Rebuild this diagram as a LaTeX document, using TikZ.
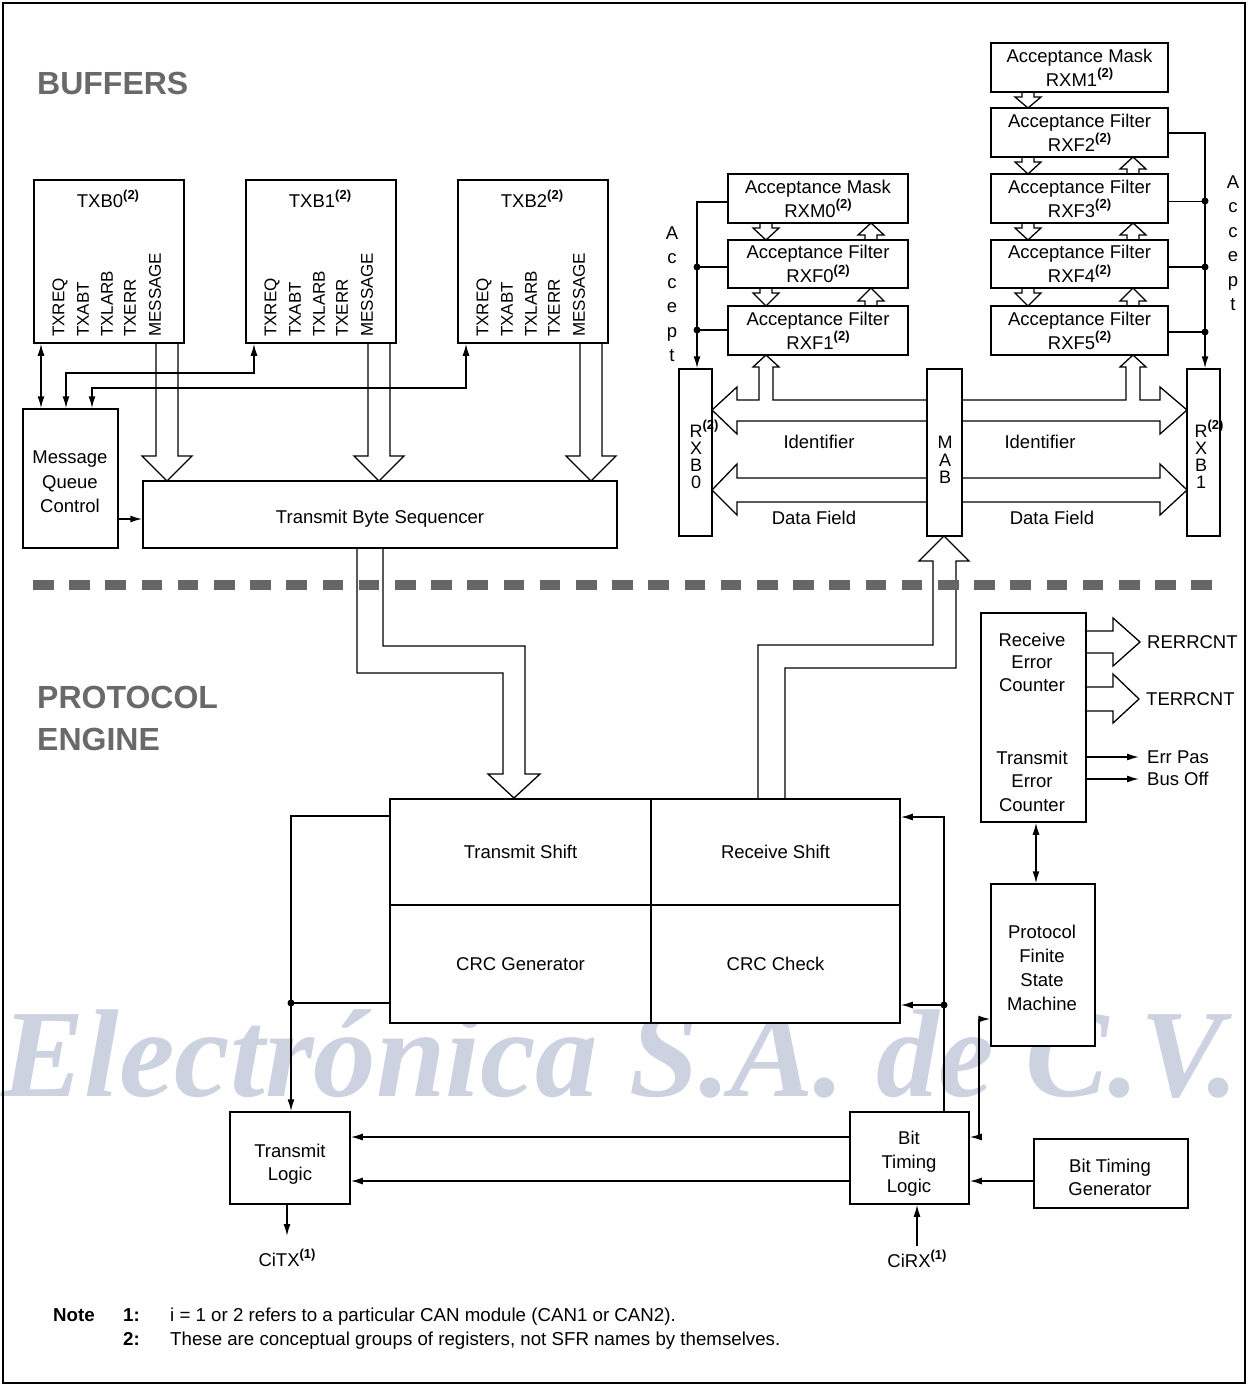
\documentclass[tikz,border=0pt]{standalone}
\usepackage{fontspec}
\setmainfont{Liberation Sans}
\newfontfamily\wmfont{Liberation Serif}
\usetikzlibrary{arrows.meta}
\definecolor{wm}{RGB}{205,210,225}
\definecolor{lblgray}{RGB}{105,105,105}
\definecolor{dashgray}{RGB}{102,102,102}
\newcommand\nt[1]{\raisebox{0.45em}{\fontsize{13}{13}\selectfont\bfseries(#1)}}
\newcommand\fn{\fontsize{18.5}{24}\selectfont}
\newcommand\boxnode[6]{\node[box, minimum width={#4-#2}, minimum height={#5-#3}] (#1) at ({(#2+#4)/2},{(#3+#5)/2}) {#6};}
\newcommand\hdown[3]{\draw[hol] ({#1-6},#2) -- ({#1-6},{#2+5}) -- ({#1-13},{#2+5}) -- (#1,#3) -- ({#1+13},{#2+5}) -- ({#1+6},{#2+5}) -- ({#1+6},#2);}
\newcommand\hup[3]{\draw[hol] ({#1-6},#3) -- ({#1-6},{#3-5}) -- ({#1-13},{#3-5}) -- (#1,#2) -- ({#1+13},{#3-5}) -- ({#1+6},{#3-5}) -- ({#1+6},#3);}
\tikzset{
 box/.style={draw, line width=1.5pt, fill=white, inner sep=0pt, align=center, font=\fn},
 con/.style={line width=1.5pt},
 arr/.style={con, -{Latex[length=12pt,width=7pt]}},
 darr/.style={con, {Latex[length=12pt,width=7pt]}-{Latex[length=12pt,width=7pt]}},
 hol/.style={draw, line width=1.3pt, line join=miter},
 txt/.style={inner sep=0pt, font=\fn, align=center},
 rot/.style={inner sep=0pt, font=\fontsize{17}{17}\selectfont, rotate=90, anchor=west},
 sect/.style={inner sep=0pt, anchor=west, text=lblgray, font=\fontsize{32}{38}\selectfont\bfseries},
 note/.style={inner sep=0pt, anchor=base west, font=\fontsize{18.7}{22}\selectfont},
}
\begin{document}
\begin{tikzpicture}[x=1pt,y=-1pt]
\useasboundingbox (0,0) rectangle (1248,1386);
% watermark text
\node[inner sep=0pt, anchor=base west, text=wm, font=\wmfont\bfseries\itshape\fontsize{125}{125}\selectfont] (wmtext) at (1,1096) {Electrónica S.A. de C.V.};
% frame
\draw[line width=1.5pt] (3,3) rectangle (1245,1383);
% section labels
\node[sect] (buffers) at (37,83) {BUFFERS};
\node[sect] (protocol) at (37,697) {PROTOCOL};
\node[sect] (engine) at (37,739) {ENGINE};
% TX buffers
\boxnode{txb0}{34}{180}{184}{343}{}
\boxnode{txb1}{246}{180}{396}{343}{}
\boxnode{txb2}{458}{180}{608}{343}{}
\foreach \b/\x in {0/34,1/246,2/458}{
  \node[txt] (txbt\b) at (\x+74,199) {TXB\b\nt{2}};
  \foreach \o/\l [count=\k] in {26/TXREQ,49/TXABT,73/TXLARB,96/TXERR,121/MESSAGE}{
    \node[rot] (txl\b-\k) at (\x+\o,337) {\l};
  }
}
\boxnode{mqc}{23}{409}{118}{548}{}
\node[txt, font=\fontsize{18.5}{24.5}\selectfont] (mqct) at (70,482) {Message\\Queue\\Control};
\boxnode{tbs}{143}{481}{617}{548}{}
\node[txt] (tbst) at (380,519) {Transmit Byte Sequencer};
\draw[darr] (txb0.south -| 41,0) -- (mqc.north -| 41,0);
\draw[darr] (txb1.south -| 254,0) -- (254,373) -- (66,373) -- (mqc.north -| 66,0);
\draw[darr] (txb2.south -| 466,0) -- (466,388) -- (92,388) -- (mqc.north -| 92,0);
\draw[arr] (mqc.east |- 0,519) -- (tbs.west |- 0,519);
% hollow arrows TXB -> TBS
\foreach \c in {167,379,591}{
  \draw[hol] (\c-11,343) -- (\c-11,456) -- (\c-25,456) -- (\c,481) -- (\c+25,456) -- (\c+11,456) -- (\c+11,343);
}
% RX side
\boxnode{rxm0}{728}{174}{908}{223}{Acceptance Mask\\RXM0\nt{2}}
\boxnode{rxf0}{728}{240}{908}{288}{Acceptance Filter\\RXF0\nt{2}}
\boxnode{rxf1}{728}{306}{908}{355}{Acceptance Filter\\RXF1\nt{2}}
\boxnode{rxm1}{991}{43}{1168}{92}{Acceptance Mask\\RXM1\nt{2}}
\boxnode{rxf2}{991}{108}{1168}{157}{Acceptance Filter\\RXF2\nt{2}}
\boxnode{rxf3}{991}{174}{1168}{223}{Acceptance Filter\\RXF3\nt{2}}
\boxnode{rxf4}{991}{240}{1168}{288}{Acceptance Filter\\RXF4\nt{2}}
\boxnode{rxf5}{991}{306}{1168}{355}{Acceptance Filter\\RXF5\nt{2}}
\hdown{766}{223}{240} \hup{871}{223}{240}
\hdown{766}{288}{306} \hup{871}{288}{306}
\hdown{1028}{92}{108}
\hdown{1028}{157}{174} \hup{1133}{157}{174}
\hdown{1028}{223}{240} \hup{1133}{223}{240}
\hdown{1028}{288}{306} \hup{1133}{288}{306}
\boxnode{rxb0}{679}{369}{712}{536}{}
\boxnode{mab}{927}{369}{962}{536}{}
\boxnode{rxb1}{1187}{369}{1220}{536}{}
\node[txt, font=\fontsize{18}{17}\selectfont] (rxb0t) at (696,454) {R\rlap{\nt{2}}\\X\\B\\0};
\node[txt, font=\fontsize{18}{17}\selectfont] (rxb1t) at (1201,454) {R\rlap{\nt{2}}\\X\\B\\1};
\node[txt, font=\fontsize{18}{17.5}\selectfont] (mabt) at (945,460) {M\\A\\B};
% accept lines
\draw[arr] (rxm0.west |- 0,202) -- (697,202) -- (rxb0.north -| 697,0);
\draw[con] (697,267) -- (rxf0.west |- 0,267);
\draw[con] (697,330) -- (rxf1.west |- 0,330);
\fill (697,267) circle (3.5pt);
\fill (697,330) circle (3.5pt);
\draw[arr] (rxf2.east |- 0,133) -- (1205,133) -- (rxb1.north -| 1205,0);
\draw[line width=1pt] (1205,201) -- (rxf3.east |- 0,201);
\draw[con] (1205,267) -- (rxf4.east |- 0,267);
\draw[con] (1205,332) -- (rxf5.east |- 0,332);
\fill (1205,201) circle (3.5pt);
\fill (1205,267) circle (3.5pt);
\fill (1205,332) circle (3.5pt);
\node[txt, font=\fontsize{18.5}{24.5}\selectfont] (accl) at (672,294) {A\\c\\c\\e\\p\\t};
\node[txt, font=\fontsize{18.5}{24.5}\selectfont] (accr) at (1233,243) {A\\c\\c\\e\\p\\t};
% bus arrows
\draw[hol] (927,400) -- (773,400) -- (773,367) -- (779,367) -- (766,355) -- (753,367) -- (759,367) -- (759,400) -- (737,400) -- (737,387) -- (712,410) -- (737,434) -- (737,421) -- (927,421);
\draw[hol] (927,478) -- (737,478) -- (737,464) -- (712,490) -- (737,515) -- (737,502) -- (927,502);
\draw[hol] (962,400) -- (1126,400) -- (1126,367) -- (1120,367) -- (1133,355) -- (1146,367) -- (1140,367) -- (1140,400) -- (1160,400) -- (1160,387) -- (1187,410) -- (1160,434) -- (1160,421) -- (962,421);
\draw[hol] (962,478) -- (1160,478) -- (1160,464) -- (1187,490) -- (1160,515) -- (1160,502) -- (962,502);
\node[txt] (idl) at (819,442) {Identifier};
\node[txt] (idr) at (1040,442) {Identifier};
\node[txt] (dfl) at (814,518) {Data Field};
\node[txt] (dfr) at (1052,518) {Data Field};
% protocol engine block
\boxnode{tsh}{390}{799}{651}{905}{Transmit Shift}
\boxnode{rsh}{651}{799}{900}{905}{Receive Shift}
\boxnode{crcg}{390}{905}{651}{1023}{CRC Generator}
\boxnode{crcc}{651}{905}{900}{1023}{CRC Check}
% transmit path (hollow)
\draw[hol] (357,548) -- (357,673) -- (503,673) -- (503,774) -- (488,774) -- (514,798) -- (540,774) -- (525,774) -- (525,646) -- (383,646) -- (383,548);
% receive path (hollow)
\draw[hol] (758,799) -- (758,645) -- (933,645) -- (933,561) -- (919,561) -- (944,536) -- (969,561) -- (956,561) -- (956,668) -- (785,668) -- (785,799);
% error counters
\boxnode{ec}{981}{613}{1086}{822}{}
\node[txt, font=\fontsize{18.5}{22.5}\selectfont] (rec) at (1032,662) {Receive\\Error\\Counter};
\node[txt, font=\fontsize{18.5}{23.5}\selectfont] (tec) at (1032,781) {Transmit\\Error\\Counter};
\draw[hol] (1086,631) -- (1113,631) -- (1113,618) -- (1140,642) -- (1113,666) -- (1113,653) -- (1086,653);
\draw[hol] (1086,687) -- (1113,687) -- (1113,674) -- (1139,699) -- (1113,723) -- (1113,711) -- (1086,711);
\node[txt, anchor=west] (rerr) at (1147,642) {RERRCNT};
\node[txt, anchor=west] (terr) at (1146,699) {TERRCNT};
\node[txt, anchor=west] (errpas) at (1147,757) {Err Pas};
\node[txt, anchor=west] (busoff) at (1147,779) {Bus Off};
\draw[arr] (ec.east |- errpas.west) -- ([xshift=-8pt]errpas.west);
\draw[arr] (ec.east |- busoff.west) -- ([xshift=-8pt]busoff.west);
\boxnode{pfsm}{991}{884}{1095}{1046}{}
\node[txt] (pfsmt) at (1042,968) {Protocol\\Finite\\State\\Machine};
\draw[darr] (ec.south -| 1036,0) -- (pfsm.north -| 1036,0);
% bottom
\boxnode{tl}{230}{1112}{350}{1204}{}
\node[txt, font=\fontsize{18.5}{23}\selectfont] (tlt) at (290,1164) {Transmit\\Logic};
\boxnode{btl}{850}{1112}{969}{1204}{}
\node[txt] (btlt) at (909,1164) {Bit\\Timing\\Logic};
\boxnode{btg}{1034}{1139}{1188}{1208}{}
\node[txt, font=\fontsize{18.5}{23}\selectfont] (btgt) at (1110,1177) {Bit Timing\\Generator};
\draw[arr] (btl.west |- 0,1137) -- (tl.east |- 0,1137);
\draw[arr] (btl.west |- 0,1181) -- (tl.east |- 0,1181);
\draw[arr] (btg.west |- 0,1181) -- (btl.east |- 0,1181);
\node[txt] (citx) at (287,1258) {CiTX\nt{1}};
\node[txt] (cirx) at (917,1259) {CiRX\nt{1}};
\draw[arr] (tl.south -| 287,0) -- (287,1236);
\draw[arr] (917,1246) -- (btl.south -| 917,0);
% loops
\draw[arr] (tsh.west |- 0,816) -- (291,816) -- (tl.north -| 291,0);
\draw[con] (crcg.west |- 0,1003) -- (291,1003);
\fill (291,1003) circle (3.5pt);
\draw[arr] (btl.north -| 944,0) -- (944,817) -- (rsh.east |- 0,817);
\draw[arr] (944,1005) -- (crcc.east |- 0,1005);
\fill (944,1005) circle (3.5pt);
\draw[darr] (btl.east |- 0,1137) -- (979,1137) -- (979,1019) -- (pfsm.west |- 0,1019);
% separator
\draw[dashgray, line width=10pt, dash pattern=on 20.5pt off 15.7pt] (33,585) -- (1220,585);
% notes
\node[note, font=\fontsize{18.7}{22}\selectfont\bfseries] (note) at (53,1321) {Note};
\node[note, font=\fontsize{18.7}{22}\selectfont\bfseries] (n1) at (123,1321) {1:};
\node[note] (n1t) at (170,1321) {i = 1 or 2 refers to a particular CAN module (CAN1 or CAN2).};
\node[note, font=\fontsize{18.7}{22}\selectfont\bfseries] (n2) at (123,1345) {2:};
\node[note] (n2t) at (170,1345) {These are conceptual groups of registers, not SFR names by themselves.};
\end{tikzpicture}
\end{document}
